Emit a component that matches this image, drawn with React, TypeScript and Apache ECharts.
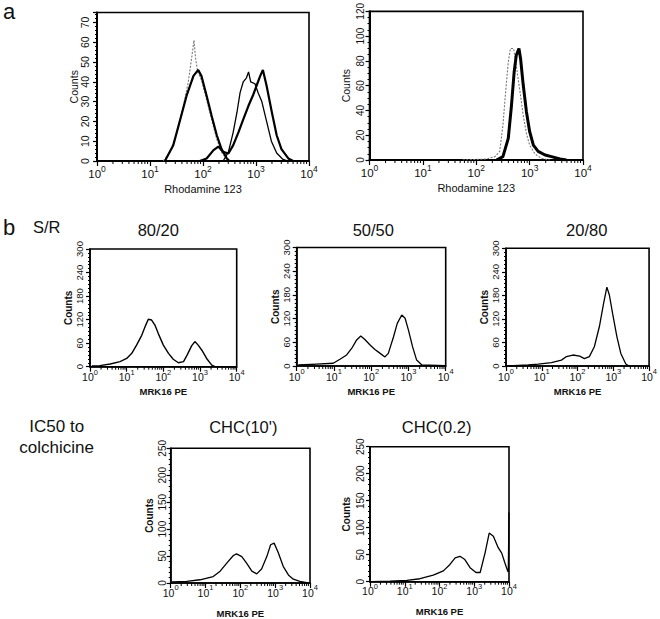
import React, { useEffect, useRef } from 'react';
import * as echarts from 'echarts';

const FONT = '"Liberation Sans", Arial, Helvetica, sans-serif';

// ---------- data (x = fluorescence intensity, y = counts) ----------
// Panel a, left (Rhodamine 123)
const aLeftDotted = [[17.8,0],[24,4.6],[31.6,14],[42.7,28],[52.5,39.5],[61.7,53],[67.6,61],[72.4,52],[79.4,45],[93.3,41],[117,31],[145,21],[182,11],[224,4.5],[282,0.8],[316,0]];
const aLeftThickLow = [[19.1,0],[27.5,8],[37.2,21],[49,33],[66.1,43],[81.3,46],[93.3,43],[117,33],[145,23],[182,13],[224,6],[282,1.3],[316,0]];
const aLeftThickHigh = [[87.1,0],[117,1.3],[158,5.5],[195,7.3],[240,4.6],[302,3.8],[372,8],[468,14.6],[575,21],[724,28],[891,33.6],[1023,38],[1202,43],[1349,46],[1585,38],[1995,24.5],[2455,13],[3020,6],[4074,1.3],[5012,0]];
const aLeftThin = [[240,0],[302,4.6],[372,14.6],[437,24.5],[501,34.5],[575,40],[661,42],[724,45],[794,40],[955,39],[1096,34.5],[1288,30],[1585,20],[1950,10],[2455,4],[3162,1],[3981,0]];
// Panel a, right
const aRightDotted = [[56,0],[155,0.8],[224,2.7],[275,7],[316,28],[355,55],[398,79],[437,90],[501,90],[562,76],[661,55],[759,36],[871,21.5],[1000,12],[1259,5],[1660,1.3],[2399,0]];
const aRightThick = [[240,0],[316,2.7],[398,17.5],[457,44],[513,71],[562,84.5],[631,90],[676,82],[759,60.5],[871,39],[1000,23],[1175,12],[1445,7],[1950,4],[2570,2.7],[3715,0.8],[4898,0]];
// Panel b, S/R mixtures
const b8020 = [[1.12,1.8],[1.86,2.7],[3.55,7],[6.61,13],[10,21],[13.8,34],[18.6,55],[25.7,80],[33.1,106],[38.9,121],[47.9,119],[58.9,106],[72.4,85],[100,55],[138,34],[186,19],[257,10],[355,13],[447,30],[589,53],[724,64],[891,55],[1122,42],[1514,21],[2089,4],[2570,0],[10000,0]];
const b5050 = [[1.1,2.5],[3.47,5],[9.55,7],[14.5,17],[21.9,28],[30.2,45],[40.7,66],[52.5,76],[67.6,67],[93.3,53],[126,42],[174,32],[234,23],[288,32],[398,74],[501,108],[661,129],[813,121],[1000,91],[1288,49],[1660,15],[2291,2.5],[9550,1]];
const b2080 = [[1.15,0],[4.17,2.5],[7.94,5],[18.6,8.5],[35.5,15],[49,24],[74.1,28],[115,25],[155,19],[214,24],[295,49],[407,100],[537,160],[661,201],[776,181],[955,134],[1259,75],[1622,32],[2239,5],[2754,0]];
// IC50 to colchicine
const chc10 = [[1.07,2],[2.88,3],[6.92,6],[16.6,12],[26.3,22],[40.7,37],[63.1,51],[77.6,54],[110,49],[151,37],[214,22],[295,17],[407,26],[575,49],[741,71],[933,74],[1230,56],[1698,31],[2399,15],[3311,7],[5129,3],[8913,0]];
const chc02 = [[1.12,0],[3.8,1],[11.5,2.5],[27.5,5.5],[66.1,12],[129,20],[200,32],[282,44],[389,47],[537,41],[759,26],[1122,17],[1479,17],[2042,53],[2692,90],[3548,84],[4898,63],[6166,53],[7586,35],[9120,20],[9550,18],[10000,128]];

// log-axis minor tick positions
const minorTickValues = [2,3,4,5,6,7,8,9,20,30,40,50,60,70,80,90,200,300,400,500,600,700,800,900,2000,3000,4000,5000,6000,7000,8000,9000];

// axis ranges
const yMax = [75, 120, 300, 300, 300, 250, 250];
const yInterval = [10, 20, 60, 60, 60, 50, 50];
const xNames = ['Rhodamine 123', 'Rhodamine 123', 'MRK16 PE', 'MRK16 PE', 'MRK16 PE', 'MRK16 PE', 'MRK16 PE'];

// ---------- layout / style ----------
const grids = [
  { left: 97, top: 12.5, width: 212, height: 148.5 },
  { left: 369.5, top: 10.5, width: 213.5, height: 149.5 },
  { left: 90, top: 249, width: 146.7, height: 117.7 },
  { left: 296.7, top: 247.5, width: 149, height: 118.5 },
  { left: 506, top: 248.3, width: 144, height: 117.7 },
  { left: 170.7, top: 448.3, width: 139.3, height: 135 },
  { left: 370, top: 446.7, width: 139, height: 135 },
];
const axStyle = [
  { yf: 10.5, ym: 7, ng: 18, nf: 10.5, nb: 'normal', bf: 11.5, sf: 8.5, lh: 15.5, lm: 3.5, xng: 22, xnf: 11, xnb: 'normal', aw: 2, minor: 5 },
  { yf: 10, ym: 4, ng: 18.5, nf: 10.5, nb: 'normal', bf: 11.5, sf: 8.5, lh: 15.5, lm: 3.5, xng: 22, xnf: 11, xnb: 'normal', aw: 2, minor: 4 },
  { yf: 9.5, ym: 5.5, ng: 17, nf: 10, nb: 'bold', bf: 10.5, sf: 7.5, lh: 14.5, lm: 1.5, xng: 20, xnf: 9.5, xnb: 'bold', aw: 1.6, minor: 6 },
  { yf: 9.5, ym: 5.5, ng: 16, nf: 10, nb: 'bold', bf: 10.5, sf: 7.5, lh: 14.5, lm: 1.5, xng: 20, xnf: 9.5, xnb: 'bold', aw: 1.6, minor: 6 },
  { yf: 9.5, ym: 5.5, ng: 17, nf: 10, nb: 'bold', bf: 10.5, sf: 7.5, lh: 14.5, lm: 1.5, xng: 20, xnf: 9.5, xnb: 'bold', aw: 1.6, minor: 6 },
  { yf: 10, ym: 3, ng: 16.5, nf: 10, nb: 'bold', bf: 10.5, sf: 7.5, lh: 14.5, lm: 0.5, xng: 25, xnf: 9.5, xnb: 'bold', aw: 1.6, minor: 5 },
  { yf: 10, ym: 5, ng: 18.5, nf: 10, nb: 'bold', bf: 10.5, sf: 7.5, lh: 14.5, lm: 0.5, xng: 25, xnf: 9.5, xnb: 'bold', aw: 1.6, minor: 5 },
];

function lineSeries(data: number[][], gi: number, width: number, color = '#000', type: any = 'solid') {
  return {
    type: 'line', xAxisIndex: gi, yAxisIndex: gi, data,
    showSymbol: false, symbol: 'none', silent: true, z: 3,
    lineStyle: { color, width, type },
  };
}

function minorTickSeries(gi: number) {
  return {
    type: 'custom', xAxisIndex: gi, yAxisIndex: gi, silent: true, clip: false, z: 4,
    data: minorTickValues.map((v) => [v, 0]),
    renderItem: (params: any, api: any) => {
      const p = api.coord([api.value(0), 0]);
      return {
        type: 'line',
        shape: { x1: p[0], y1: p[1], x2: p[0], y2: p[1] + 3 },
        style: { stroke: '#000', lineWidth: 1 },
      };
    },
  };
}

function txt(text: string, x: number, y: number, size: number, align = 'left') {
  return {
    type: 'text', x, y, silent: true,
    style: {
      text, x: 0, y: 0, fill: '#111',
      font: `${size}px ${FONT}`, fontSize: size, fontFamily: FONT,
      align, textAlign: align, verticalAlign: 'middle', textVerticalAlign: 'middle',
    },
  };
}

export default function App() {
  const ref = useRef<HTMLDivElement>(null);
  useEffect(() => {
    if (!ref.current) return;
    const chart = echarts.init(ref.current, undefined, { renderer: 'svg' });
    const xAxis = grids.map((_, gi) => {
      const s = axStyle[gi];
      return {
        type: 'log', logBase: 10, min: 1, max: 10000, gridIndex: gi,
        axisLine: { show: true, onZero: false, lineStyle: { color: '#000', width: s.aw } },
        axisTick: { show: true, length: 5, lineStyle: { color: '#000', width: 1.2 } },
        splitLine: { show: false },
        axisLabel: {
          margin: s.lm,
          showMinLabel: true, showMaxLabel: true, hideOverlap: false,
          formatter: (v: number) => `{b|10}{s|${Math.round(Math.log10(v))}}`,
          rich: {
            b: { fontSize: s.bf, fontFamily: FONT, color: '#111', verticalAlign: 'bottom', lineHeight: s.lh },
            s: { fontSize: s.sf, fontFamily: FONT, color: '#111', verticalAlign: 'top' },
          },
        },
        name: xNames[gi], nameLocation: 'middle', nameGap: s.xng, nameMoveOverlap: false,
        nameTextStyle: { fontSize: s.xnf, fontWeight: s.xnb, fontFamily: FONT, color: '#111' },
      };
    });
    const yAxis = grids.map((_, gi) => {
      const s = axStyle[gi];
      return {
        type: 'value', min: 0, max: yMax[gi], interval: yInterval[gi], gridIndex: gi,
        axisLine: { show: true, onZero: false, lineStyle: { color: '#000', width: s.aw } },
        axisTick: { show: true, length: 4, lineStyle: { color: '#000', width: 1.2 } },
        minorTick: { show: true, splitNumber: s.minor, length: 2, lineStyle: { color: '#000', width: 1 } },
        splitLine: { show: false },
        axisLabel: {
          rotate: 90, margin: s.ym, fontSize: s.yf, fontFamily: FONT, color: '#111',
          showMaxLabel: true, hideOverlap: false,
          formatter: (v: number) => (v % yInterval[gi] === 0 ? String(v) : ''),
        },
        name: 'Counts', nameLocation: 'middle', nameGap: s.ng, nameRotate: 90, nameMoveOverlap: false,
        nameTextStyle: { fontSize: s.nf, fontWeight: s.nb, fontFamily: FONT, color: '#111' },
      };
    });
    const series: any[] = [
      lineSeries(aLeftDotted, 0, 1.1, '#777', [2, 1.5]),
      lineSeries(aLeftThickLow, 0, 2.2),
      lineSeries(aLeftThickHigh, 0, 2.2),
      lineSeries(aLeftThin, 0, 1.3),
      lineSeries(aRightDotted, 1, 1.1, '#777', [2, 1.5]),
      lineSeries(aRightThick, 1, 3),
      lineSeries(b8020, 2, 1.4),
      lineSeries(b5050, 3, 1.3),
      lineSeries(b2080, 4, 1.3),
      lineSeries(chc10, 5, 1.3),
      lineSeries(chc02, 6, 1.3),
    ];
    grids.forEach((_, gi) => series.push(minorTickSeries(gi)));
    chart.setOption({
      animation: false,
      backgroundColor: '#fff',
      grid: grids.map((g) => ({ ...g, show: true, borderColor: '#000', borderWidth: 1.6, backgroundColor: 'transparent', containLabel: false })),
      xAxis,
      yAxis,
      series,
      graphic: [
        txt('a', 3, 11.6, 22),
        txt('b', 3, 227.6, 22),
        txt('S/R', 33, 226.7, 16.5),
        txt('80/20', 158.3, 230.4, 16.5, 'center'),
        txt('50/50', 373.3, 230.4, 16.5, 'center'),
        txt('20/80', 586.7, 230.4, 16.5, 'center'),
        txt('IC50 to', 56.7, 426.8, 17, 'center'),
        txt('colchicine', 56.7, 447, 17, 'center'),
        txt("CHC(10')", 243.3, 426.7, 16.5, 'center'),
        txt('CHC(0.2)', 436.7, 426.7, 16.5, 'center'),
      ],
    });
    return () => chart.dispose();
  }, []);
  return <div ref={ref} style={{ position: 'absolute', left: 0, top: 0, width: 660, height: 619 }} />;
}
